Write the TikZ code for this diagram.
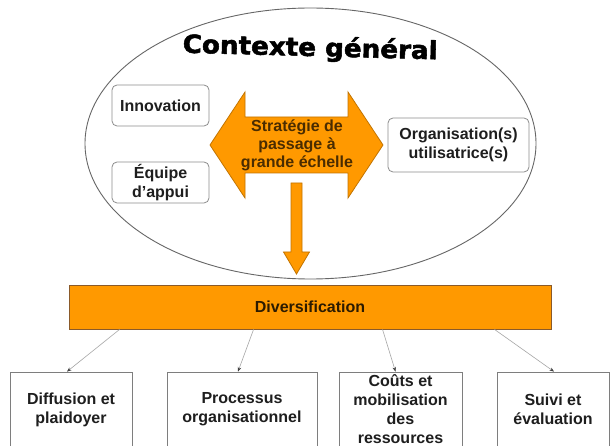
\documentclass[tikz,border=0pt]{standalone}
\usepackage{fontspec}
\setmainfont{Liberation Sans}
\newfontfamily\titlefont[FakeBold=2]{DejaVu Sans Bold}
\usetikzlibrary{arrows.meta,calc,shapes.geometric}
\definecolor{orng}{HTML}{FF9900}
\definecolor{orngedge}{HTML}{C27400}
\definecolor{bardge}{HTML}{8A5A2A}
\definecolor{boxedge}{HTML}{8C8C8C}
\definecolor{txt}{HTML}{1E1E1E}
\definecolor{brtxt}{HTML}{4A2C00}
\begin{document}
\begin{tikzpicture}[x=1pt,y=-1pt,
  lbl/.style={font=\bfseries\fontsize{16}{19}\selectfont, text=txt, align=center},
  rbox/.style={lbl, draw=boxedge, line width=0.8pt, fill=white, rounded corners=5pt, inner sep=0pt},
  bbox/.style={lbl, draw=boxedge!90!black, line width=0.8pt, fill=white, inner sep=0pt, minimum width=#1, minimum height=75pt},
  orangeshape/.style={fill=orng, draw=orngedge, line width=0.8pt, line join=miter},
  conn/.style={draw=gray!70, line width=0.6pt, -{Stealth[length=4.5pt,width=3.5pt,color=black!75]}}
]
\clip (0,0) rectangle (611,446);
\fill[white] (0,0) rectangle (611,446);

% context ellipse
\node[draw=black!60, line width=0.9pt, ellipse, minimum width=451pt, minimum height=271pt, inner sep=0pt] (ctx) at (310.5,143.5) {};

% title
\node[anchor=base, rotate=-1.5, inner sep=0pt] (title) at (310,56)
  {\titlefont\fontsize{25}{25}\selectfont\resizebox{255pt}{\height}{Contexte général}};

% inner boxes
\node[rbox, minimum width=97pt, minimum height=41pt] (inno) at (160.5,105.5) {Innovation};
\node[rbox, minimum width=97pt, minimum height=41pt] (equipe) at (160.5,182.5) {Équipe\\d{\char39}appui};
\node[rbox, minimum width=141pt, minimum height=54pt] (orga) at (458.5,145) {Organisation(s)\\utilisatrice(s)};

% double arrow
\draw[orangeshape] (210,145) -- (245,92) -- (245,117) -- (348,117) -- (348,92) -- (383,145)
  -- (348,198) -- (348,173) -- (245,173) -- (245,198) -- cycle;
\node[font=\bfseries\fontsize{16}{18}\selectfont, text=brtxt, align=center] (strat) at (297,145)
  {Stratégie de\\passage à\\grande échelle};

% down arrow
\draw[orangeshape] (291,183) -- (302,183) -- (302,252) -- (309.5,252) -- (296.5,274)
  -- (283.5,252) -- (291,252) -- cycle;

% diversification bar
\node[lbl, fill=orng, draw=bardge, line width=0.9pt, minimum width=482pt, minimum height=44pt, inner sep=0pt, text=brtxt!60!black] (div) at (310,307) {Diversification};

% bottom boxes
\node[bbox=122pt] (b1) at (71,409.5) {Diffusion et\\plaidoyer};
\node[bbox=150pt] (b2) at (242,409.5) {Processus\\organisationnel};
\node[bbox=123pt] (b3) at (400.5,409.5) {Coûts et\\mobilisation\\des\\ressources};
\node[bbox=112pt] (b4) at (553,409.5) {Suivi et\\évaluation};

% connectors
\coordinate (d1) at ($(div.south west)+(51,0)$);
\coordinate (d2) at ($(div.south west)+(185,0)$);
\coordinate (d3) at ($(div.south west)+(314,0)$);
\coordinate (d4) at ($(div.south west)+(426,0)$);
\draw[conn] (d1) -- ($(b1.north)+(-4,0)$);
\draw[conn] (d2) -- ($(b2.north)+(-4,0)$);
\draw[conn] (d3) -- ($(b3.north)+(-5,0)$);
\draw[conn] (d4) -- ($(b4.north)+(1,0)$);
\end{tikzpicture}
\end{document}
